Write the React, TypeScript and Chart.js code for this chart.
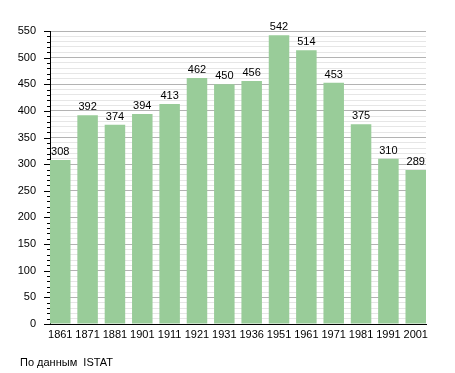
import React, { useEffect, useRef } from "react";
import { Chart, registerables } from "chart.js";

Chart.register(...registerables);

const years = ["1861", "1871", "1881", "1901", "1911", "1921", "1931", "1936", "1951", "1961", "1971", "1981", "1991", "2001"];
const population = [308, 392, 374, 394, 413, 462, 450, 456, 542, 514, 453, 375, 310, 289];
const yTickStep = 10;
const yLabelStep = 50;
const yMax = 550;
const caption = "По данным  ISTAT";

const FONT = "'Liberation Sans', Arial, sans-serif";

const overlayPlugin = {
  id: "overlay",
  afterDatasetsDraw(chart: any) {
    const ctx = chart.ctx;
    const meta = chart.getDatasetMeta(0);
    ctx.save();
    ctx.font = `11px ${FONT}`;
    ctx.fillStyle = "#000";
    ctx.textAlign = "center";
    ctx.textBaseline = "alphabetic";
    meta.data.forEach((bar: any, i: number) => {
      ctx.fillText(String(population[i]), bar.x, bar.y - 5);
    });
    // y tick marks
    const ys = chart.scales.y;
    const left = chart.chartArea.left;
    ctx.strokeStyle = "#000";
    ctx.lineWidth = 1;
    for (let v = 0; v <= yMax; v += yTickStep) {
      const py = Math.round(ys.getPixelForValue(v)) + 0.5;
      const len = v % yLabelStep === 0 ? 6 : 3;
      ctx.beginPath();
      ctx.moveTo(left - len, py);
      ctx.lineTo(left, py);
      ctx.stroke();
    }
    // caption
    ctx.textAlign = "left";
    ctx.fillText(caption, 20, 366);
    ctx.restore();
  },
};

export default function App() {
  const ref = useRef<HTMLCanvasElement>(null);
  useEffect(() => {
    const half = 0.375;
    const chart = new Chart(ref.current!, {
      type: "bar",
      data: {
        datasets: [
          {
            data: population.map((v, i) => ({ x: i, y: v })),
            backgroundColor: "#99cc99",
            borderWidth: 0,
            barPercentage: 0.75,
            categoryPercentage: 1,
          },
        ],
      },
      plugins: [overlayPlugin],
      options: {
        animation: false,
        responsive: false,
        layout: { padding: { top: 31, right: 29, bottom: 0, left: 2 } },
        plugins: { legend: { display: false }, tooltip: { enabled: false } },
        scales: {
          x: {
            type: "linear",
            offset: false,
            min: -half,
            max: years.length - 1 + half,
            afterBuildTicks: (scale: any) => {
              scale.ticks = years.map((_, i) => ({ value: i }));
            },
            afterFit: (scale: any) => {
              scale.height = 49;
            },
            grid: { display: false, drawTicks: false, offset: false },
            border: { color: "#000", width: 1 },
            ticks: {
              autoSkip: false,
              maxRotation: 0,
              padding: 4,
              color: "#000",
              font: { family: FONT, size: 11 },
              callback: (v: any) => years[v] ?? "",
            },
          },
          y: {
            min: 0,
            max: yMax,
            afterFit: (scale: any) => {
              scale.width = 48;
            },
            grid: {
              drawTicks: false,
              color: (c: any) => (c.tick && c.tick.value % yLabelStep === 0 ? "#b3b3b3" : "#e6e6e6"),
            },
            border: { color: "#000", width: 1 },
            ticks: {
              stepSize: yTickStep,
              autoSkip: false,
              padding: 14,
              color: "#000",
              font: { family: FONT, size: 11 },
              callback: (v: any) => (v % yLabelStep === 0 ? String(v) : ""),
            },
          },
        },
      },
    } as any);
    return () => chart.destroy();
  }, []);
  return (
    <div style={{ position: "absolute", left: 0, top: 0, width: 455, height: 373, background: "#fff" }}>
      <canvas ref={ref} width={455} height={373} />
    </div>
  );
}
